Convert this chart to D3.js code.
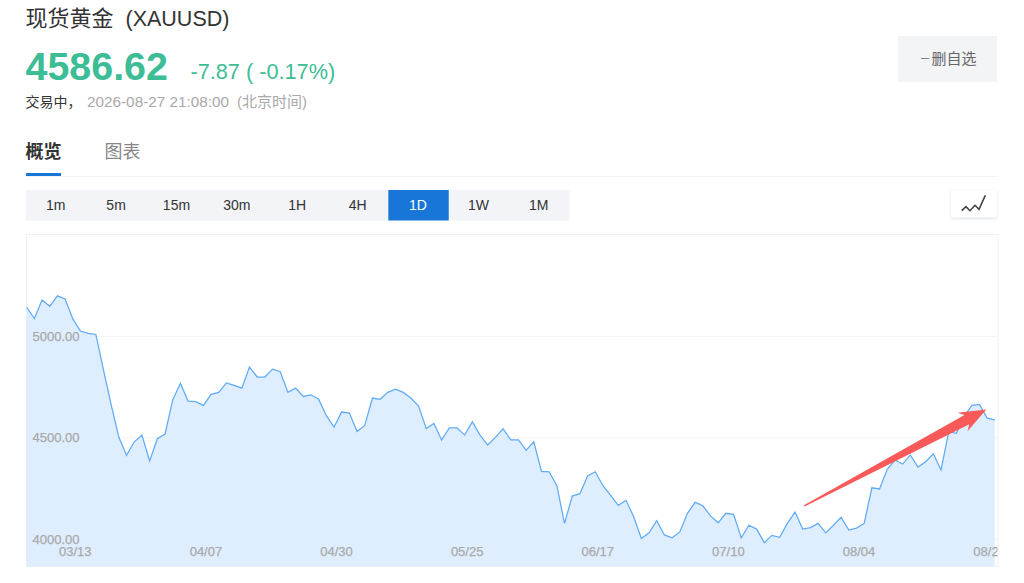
<!DOCTYPE html>
<html>
<head>
<meta charset="utf-8">
<script src="https://cdn.jsdelivr.net/npm/d3@7"></script>
<style>
  html, body { margin: 0; padding: 0; background: #fff; overflow: hidden; }
  svg { display: block; font-family: "Liberation Sans", "Noto Sans CJK SC", sans-serif; }
</style>
</head>
<body>
<div id="chart"></div>
<script>
// daily closes
const prices = [
  5142, 5087, 5178, 5147, 5199, 5183, 5085, 5025, 5013, 5008,
  4832, 4659, 4500, 4411, 4478, 4511, 4383, 4493, 4516, 4684,
  4767, 4679, 4676, 4658, 4712, 4722, 4769, 4757, 4743, 4847,
  4798, 4798, 4837, 4824, 4722, 4743, 4702, 4710, 4688, 4607,
  4551, 4625, 4620, 4529, 4559, 4694, 4688, 4722, 4738, 4722,
  4694, 4654, 4544, 4569, 4487, 4547, 4547, 4511, 4577, 4511,
  4462, 4500, 4542, 4488, 4487, 4436, 4478, 4332, 4330, 4261,
  4075, 4210, 4222, 4309, 4330, 4261, 4214, 4164, 4189, 4108,
  4001, 4029, 4088, 4018, 4004, 4033, 4125, 4179, 4162, 4112,
  4078, 4125, 4120, 4004, 4066, 4047, 3980, 4016, 4006, 4075,
  4131, 4047, 4054, 4075, 4028, 4066, 4105, 4042, 4052, 4075,
  4251, 4245, 4342, 4388, 4368, 4413, 4353, 4380, 4419, 4339,
  4528, 4520, 4602, 4658, 4663, 4595, 4586.62
];
const priceTicks = [5000, 4500, 4000];
const dateTickIndex = [6, 23, 40, 57, 74, 91, 108, 125];
const dateTickLabels = ["03/13", "04/07", "04/30", "05/25", "06/17", "07/10", "08/04", "08/27"];
const periods = ["1m", "5m", "15m", "30m", "1H", "4H", "1D", "1W", "1M"];
const activePeriod = "1D";
// annotation arrow, tail and tip in [index, price]
const arrowTail = [101.2, 4162];
const arrowTip = [124.9, 4638];

const width = 1024;
const height = 583;
const plot = { left: 26.5, right: 998, top: 234.5, bottom: 566.5 };

const green = "#3dbd96";
const blue = "#1976d9";
const gray = "#a9a9a9";

const svg = d3.select("#chart")
  .append("svg")
  .attr("width", width)
  .attr("height", height);

// header text
function label(x, y, str, size, color, weight) {
  return svg.append("text")
    .attr("x", x)
    .attr("y", y)
    .attr("font-size", size)
    .attr("fill", color)
    .attr("font-weight", weight || "normal")
    .text(str);
}

label(25.5, 26, "现货黄金", 22, "#333");
label(125.5, 26, "(XAUUSD)", 21.5, "#333");
label(25.5, 80, "4586.62", 39.4, green, "bold");
label(190.5, 79, "-7.87 ( -0.17%)", 21.7, green);
label(25.5, 107, "交易中，", 14, "#333");
label(87, 107, "2026-08-27 21:08:00", 15.3, gray);
label(237, 107, "(北京时间)", 15, gray);

// tabs
label(25.5, 158, "概览", 18, "#333", "bold");
label(104.5, 158, "图表", 18, "#888");
svg.append("rect").attr("x", 26).attr("y", 176).attr("width", 971).attr("height", 1).attr("fill", "#f3f3f3");
svg.append("rect").attr("x", 26).attr("y", 173).attr("width", 35).attr("height", 3).attr("fill", blue);

// watchlist button
svg.append("rect").attr("x", 898).attr("y", 36).attr("width", 99).attr("height", 46).attr("fill", "#f3f4f6");
label(919.5, 63, "－", 11, "#666");
label(931.5, 64, "删自选", 15, "#666");

// period buttons
const periodScale = d3.scaleBand().domain(periods).range([26, 569.5]);

svg.append("rect")
  .attr("x", 26).attr("y", 190)
  .attr("width", 543.5).attr("height", 30.5)
  .attr("fill", "#f2f4f7");

svg.selectAll(".period")
  .data(periods)
  .enter().append("rect")
  .attr("class", "period")
  .attr("x", d => periodScale(d))
  .attr("y", 190)
  .attr("width", periodScale.bandwidth())
  .attr("height", 30.5)
  .attr("fill", d => d === activePeriod ? blue : "none");

svg.selectAll(".periodLabel")
  .data(periods)
  .enter().append("text")
  .attr("class", "periodLabel")
  .attr("x", d => periodScale(d) + periodScale.bandwidth() / 2 - 0.5)
  .attr("y", 210)
  .attr("text-anchor", "middle")
  .attr("font-size", 14)
  .attr("fill", d => d === activePeriod ? "#fff" : "#333")
  .text(d => d);

// chart type button
const defs = svg.append("defs");
defs.append("filter").attr("id", "shadow")
  .attr("x", "-20%").attr("y", "-20%").attr("width", "140%").attr("height", "150%")
  .append("feDropShadow")
  .attr("dx", 0).attr("dy", 1).attr("stdDeviation", 1.5)
  .attr("flood-color", "#b9c8dc").attr("flood-opacity", 0.6);

svg.append("rect")
  .attr("x", 951).attr("y", 190)
  .attr("width", 46).attr("height", 27.5)
  .attr("rx", 2)
  .attr("fill", "#fff")
  .attr("filter", "url(#shadow)");

svg.append("path")
  .attr("d", "M961.7,210.7L966,206.7L970,210.7L975,205.3L979,209.3L985.3,195.3")
  .attr("fill", "none")
  .attr("stroke", "#444")
  .attr("stroke-width", 1.6);

// scales
const xScale = d3.scaleLinear()
  .domain([0, prices.length - 1])
  .range([plot.left + 0.2, 994.8]);

const yScale = d3.scaleLinear()
  .domain([4000, 5000])
  .range([538.6, 336.1]);

defs.append("clipPath").attr("id", "axisClip")
  .append("rect")
  .attr("x", 0).attr("y", 0)
  .attr("width", plot.right - 2.5).attr("height", 30);

// frame and grid
svg.append("rect")
  .attr("x", plot.left).attr("y", plot.top)
  .attr("width", plot.right - plot.left)
  .attr("height", plot.bottom - plot.top)
  .attr("fill", "#fff")
  .attr("stroke", "#f0f0f0");

const yGrid = d3.axisLeft(yScale)
  .tickValues(priceTicks)
  .tickSize(-(plot.right - plot.left))
  .tickFormat("");

svg.append("g")
  .attr("transform", "translate(" + plot.left + ",0)")
  .call(yGrid)
  .call(g => g.select(".domain").remove())
  .call(g => g.selectAll("line").attr("stroke", "#f3f3f3"));

// price area and line
const area = d3.area()
  .x((d, i) => xScale(i))
  .y0(plot.bottom)
  .y1(d => yScale(d));

const line = d3.line()
  .x((d, i) => xScale(i))
  .y(d => yScale(d));

svg.append("path")
  .datum(prices)
  .attr("d", area)
  .attr("fill", "#deeeff");

svg.append("path")
  .datum(prices)
  .attr("d", line)
  .attr("fill", "none")
  .attr("stroke", "#5fabf6")
  .attr("stroke-width", 1.25);

// axis labels sit inside the plot
const yAxis = d3.axisRight(yScale)
  .tickValues(priceTicks)
  .tickSize(0)
  .tickPadding(0)
  .tickFormat(d3.format(".2f"));

svg.append("g")
  .attr("transform", "translate(32.5,0)")
  .call(yAxis)
  .call(g => g.select(".domain").remove())
  .call(g => g.selectAll("text")
    .attr("y", d => d === 4000 ? 0.5 : -0.5)
    .attr("dy", "0.36em")
    .attr("fill", gray)
    .attr("stroke", gray)
    .attr("stroke-width", 0.25)
    .attr("font-size", 13)
    .attr("font-family", "inherit"));

const xAxis = d3.axisBottom(xScale)
  .tickValues(dateTickIndex)
  .tickSize(0)
  .tickPadding(0)
  .tickFormat((d, i) => dateTickLabels[i]);

svg.append("g")
  .attr("transform", "translate(2,546)")
  .attr("clip-path", "url(#axisClip)")
  .call(xAxis)
  .call(g => g.select(".domain").remove())
  .call(g => g.selectAll("text")
    .attr("y", 0)
    .attr("dy", "0.8em")
    .attr("fill", gray)
    .attr("stroke", gray)
    .attr("stroke-width", 0.25)
    .attr("font-size", 13)
    .attr("font-family", "inherit"));

// red annotation arrow, tapered towards the tail
const tail = [xScale(arrowTail[0]), yScale(arrowTail[1])];
const tip = [xScale(arrowTip[0]), yScale(arrowTip[1])];
const len = Math.hypot(tip[0] - tail[0], tip[1] - tail[1]);
const ux = (tip[0] - tail[0]) / len;
const uy = (tip[1] - tail[1]) / len;
const at = (along, side) => [tip[0] - ux * along - uy * side, tip[1] - uy * along + ux * side];

svg.append("path")
  .attr("d", d3.line()([
    at(len, 0.7),
    at(22, 5.2),
    at(27, 10.5),
    tip,
    at(27, -10.5),
    at(22, -5.2),
    at(len, -0.7)
  ]) + "Z")
  .attr("fill", "#f85a5a");
</script>
</body>
</html>
